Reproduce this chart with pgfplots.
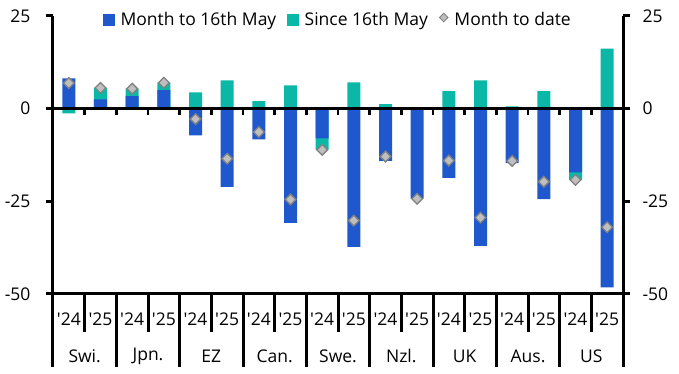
\documentclass[border=0pt]{standalone}
\usepackage{pgfplots}
\pgfplotsset{compat=1.18}
\usepackage{pgfplotstable}
\usepackage{fontspec}
\setmainfont{Open Sans}
\definecolor{cblue}{RGB}{31,88,204}
\definecolor{cteal}{RGB}{11,184,168}
\definecolor{dfill}{RGB}{191,191,191}
\definecolor{dedge}{RGB}{128,128,128}
\newcommand\cf{\fontsize{17.5}{20}\selectfont}
% b = month to 16th May, t = since 16th May, m = month to date
\pgfplotstableread{
x b t m
0 8.2 -1.3 6.9
1 2.5 3.1 5.6
2 3.4 2.0 5.4
3 5.0 2.0 7.0
4 -7.2 4.4 -2.8
5 -21.1 7.6 -13.5
6 -8.3 2.0 -6.3
7 -30.8 6.3 -24.5
8 -8.0 -3.1 -11.1
9 -37.3 7.1 -30.2
10 -14.1 1.2 -12.9
11 -24.3 0.0 -24.3
12 -18.7 4.7 -14.0
13 -37.0 7.6 -29.4
14 -14.7 0.6 -14.1
15 -24.4 4.7 -19.7
16 -17.2 -2.0 -19.2
17 -48.2 16.2 -32.0
}\data
\begin{document}
\begin{tikzpicture}[font=\cf]
\begin{axis}[
  scale only axis, width=570pt, height=278pt,
  xmin=-0.5, xmax=17.5, ymin=-50, ymax=25,
  axis x line*=bottom, axis y line*=left,
  axis line style={-, line width=3pt},
  xtick=\empty,
  ytick={-50,-25,0,25}, yticklabels={-50,-25,0,25},
  tick align=outside, major tick length=7pt,
  major tick style={line width=3pt, black},
  yticklabel style={font=\cf, xshift=-12pt},
  clip=false,
  legend columns=3,
  legend cell align=left,
  legend style={at={(0.5,1)}, anchor=center, yshift=-4pt, draw=none, fill=none, font=\cf,
    /tikz/every even column/.append style={column sep=9pt}},
]
\coordinate (bl) at (rel axis cs:0,0);
\addlegendimage{legend image code/.code={\fill[cblue] (0pt,-5.5pt) rectangle (11pt,5.5pt);}}
\addlegendentry{\hspace{4pt}Month to 16th May}
\addlegendimage{legend image code/.code={\fill[cteal] (0pt,-5.5pt) rectangle (11pt,5.5pt);}}
\addlegendentry{\hspace{4pt}Since 16th May}
\addlegendimage{legend image code/.code={\node[draw=dedge, fill=dfill, line width=1pt, rotate=45, minimum size=6pt, inner sep=0pt] at (5.5pt,0pt) {};}}
\addlegendentry{\hspace{4pt}Month to date}

\addplot[ybar, bar width=13pt, bar shift=0pt, fill=cteal, draw=none, forget plot]
  table[x=x, y expr={ifthenelse(\thisrow{b}*\thisrow{t}>0,\thisrow{b}+\thisrow{t},\thisrow{t})}] {\data};
\addplot[ybar, bar width=13pt, bar shift=0pt, fill=cblue, draw=none, forget plot]
  table[x=x, y=b] {\data};

\draw[line width=3pt] (axis cs:-0.5,0) -- (axis cs:17.5,0);
\pgfplotsinvokeforeach{0.5,1.5,...,16.5}{\draw[line width=2.5pt] (axis cs:#1,0) -- ([yshift=-6.5pt]axis cs:#1,0);}

\addplot[only marks, mark=square*, mark size=3.8pt,
  mark options={rotate=45, fill=dfill, draw=dedge, line width=1.3pt}, forget plot]
  table[x=x, y=m] {\data};

\pgfplotsinvokeforeach{0.5,2.5,...,16.5}{\draw[line width=3pt] (axis cs:#1,-50) -- ([yshift=-38pt]axis cs:#1,-50);}
\pgfplotsinvokeforeach{-0.5,1.5,...,17.5}{\draw[line width=3pt] (axis cs:#1,-50) -- ([yshift=-73pt]axis cs:#1,-50);}
\pgfplotsinvokeforeach{0,2,...,16}{\node[font=\cf] at ([yshift=-25pt]axis cs:#1,-50) {\textquotesingle 24};}
\pgfplotsinvokeforeach{1,3,...,17}{\node[font=\cf] at ([yshift=-25pt]axis cs:#1,-50) {\textquotesingle 25};}
\node[font=\cf] at ([yshift=-62pt]axis cs:0.5,-50) {Swi.};
\node[font=\cf] at ([yshift=-62pt]axis cs:2.5,-50) {Jpn.};
\node[font=\cf] at ([yshift=-62pt]axis cs:4.5,-50) {EZ};
\node[font=\cf] at ([yshift=-62pt]axis cs:6.5,-50) {Can.};
\node[font=\cf] at ([yshift=-62pt]axis cs:8.5,-50) {Swe.};
\node[font=\cf] at ([yshift=-62pt]axis cs:10.5,-50) {Nzl.};
\node[font=\cf] at ([yshift=-62pt]axis cs:12.5,-50) {UK};
\node[font=\cf] at ([yshift=-62pt]axis cs:14.5,-50) {Aus.};
\node[font=\cf] at ([yshift=-62pt]axis cs:16.5,-50) {US};
\end{axis}
\begin{axis}[
  scale only axis, width=570pt, height=278pt,
  xmin=-0.5, xmax=17.5, ymin=-50, ymax=25,
  axis x line=none, axis y line*=right,
  axis line style={-, line width=3pt},
  ytick={-50,-25,0,25}, yticklabels={-50,-25,0,25},
  tick align=outside, major tick length=7pt,
  major tick style={line width=3pt, black},
  yticklabel style={font=\cf, xshift=9pt},
]
\end{axis}
\pgfresetboundingbox
\path ([shift={(-53pt,-80pt)}]bl) rectangle ([shift={(626pt,294pt)}]bl);
\end{tikzpicture}
\end{document}
